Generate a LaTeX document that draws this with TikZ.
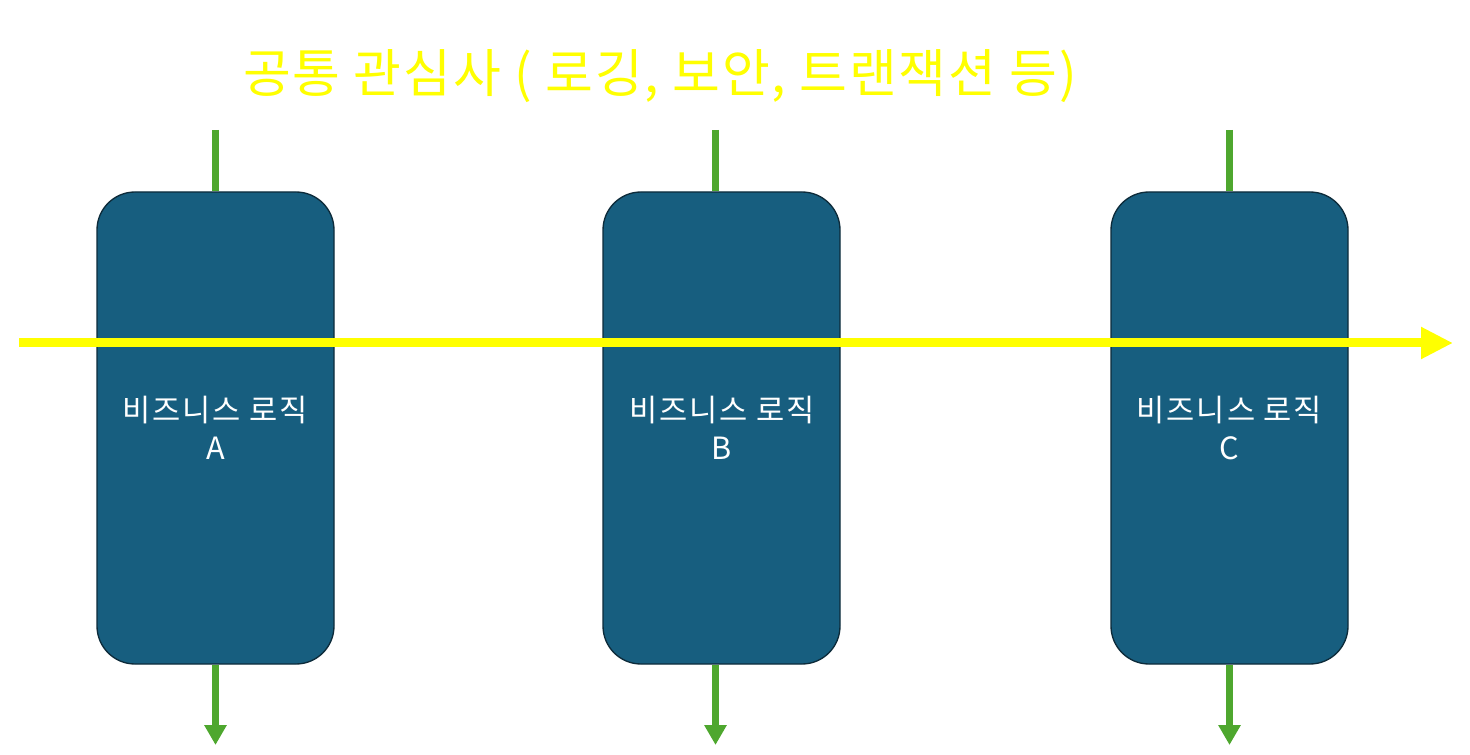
\documentclass[tikz,border=0pt]{standalone}
\usepackage{fontspec}
\setmainfont{Noto Sans CJK KR}
\newfontfamily\titlefont[LetterSpace=3.4]{Noto Sans CJK KR}
\newfontfamily\boxfont[LetterSpace=6]{Noto Sans CJK KR}
\usetikzlibrary{arrows.meta,calc}
\definecolor{boxfill}{RGB}{23,94,127}
\definecolor{boxline}{RGB}{13,43,58}
\definecolor{flowgreen}{RGB}{78,167,46}
\definecolor{aspyellow}{RGB}{255,255,0}
\tikzset{
  bizbox/.style={draw=boxline, line width=1pt, fill=boxfill, rounded corners=28.5pt,
    minimum width=177.75pt, minimum height=354pt, inner sep=0pt},
  biztext/.style={text=white, font=\boxfont\fontsize{23}{28.5}\selectfont, align=center, inner sep=0pt},
  flow/.style={draw=flowgreen, line width=5.25pt},
  flowarrow/.style={flow, -{Triangle[width=16pt,length=15pt]}},
  aspect/.style={draw=aspyellow, line width=6.75pt, -{Triangle[width=22.5pt,length=24pt]}},
  title/.style={text=aspyellow, font=\titlefont\fontsize{39}{44}\selectfont, inner sep=0pt}
}
\begin{document}
\begin{tikzpicture}[x=0.75pt,y=-0.75pt]
\useasboundingbox (0,0) rectangle (1470,755);
% boxes
\node[bizbox] (A) at (215.5,428) {};
\node[bizbox] (B) at (721.5,428) {};
\node[bizbox] (C) at (1229.5,428) {};
% green flows
\coordinate (tA) at (215.5,130);
\coordinate (tB) at (715.5,130);
\coordinate (tC) at (1229.5,130);
\coordinate (bA) at (215.5,745);
\coordinate (bB) at (715.5,745);
\coordinate (bC) at (1229.5,745);
\draw[flow] (tA) -- (tA |- A.north);
\draw[flow] (tB) -- (tB |- B.north);
\draw[flow] (tC) -- (tC |- C.north);
\draw[flowarrow] (bA |- A.south) -- (bA);
\draw[flowarrow] (bB |- B.south) -- (bB);
\draw[flowarrow] (bC |- C.south) -- (bC);
% yellow cross-cutting arrow
\coordinate (ys) at (19,343);
\coordinate (ye) at (1453,343);
\draw[aspect] (ys) -- (ye);
% texts
\node[biztext] (lA) at (215.5,428) {비즈니스 로직\\A};
\node[biztext] (lB) at (722,428) {비즈니스 로직\\B};
\node[biztext] (lC) at (1229.5,428) {비즈니스 로직\\C};
\node[title] (T) at (660,76) {공통 관심사 ( 로깅, 보안, 트랜잭션 등)};
\end{tikzpicture}
\end{document}
